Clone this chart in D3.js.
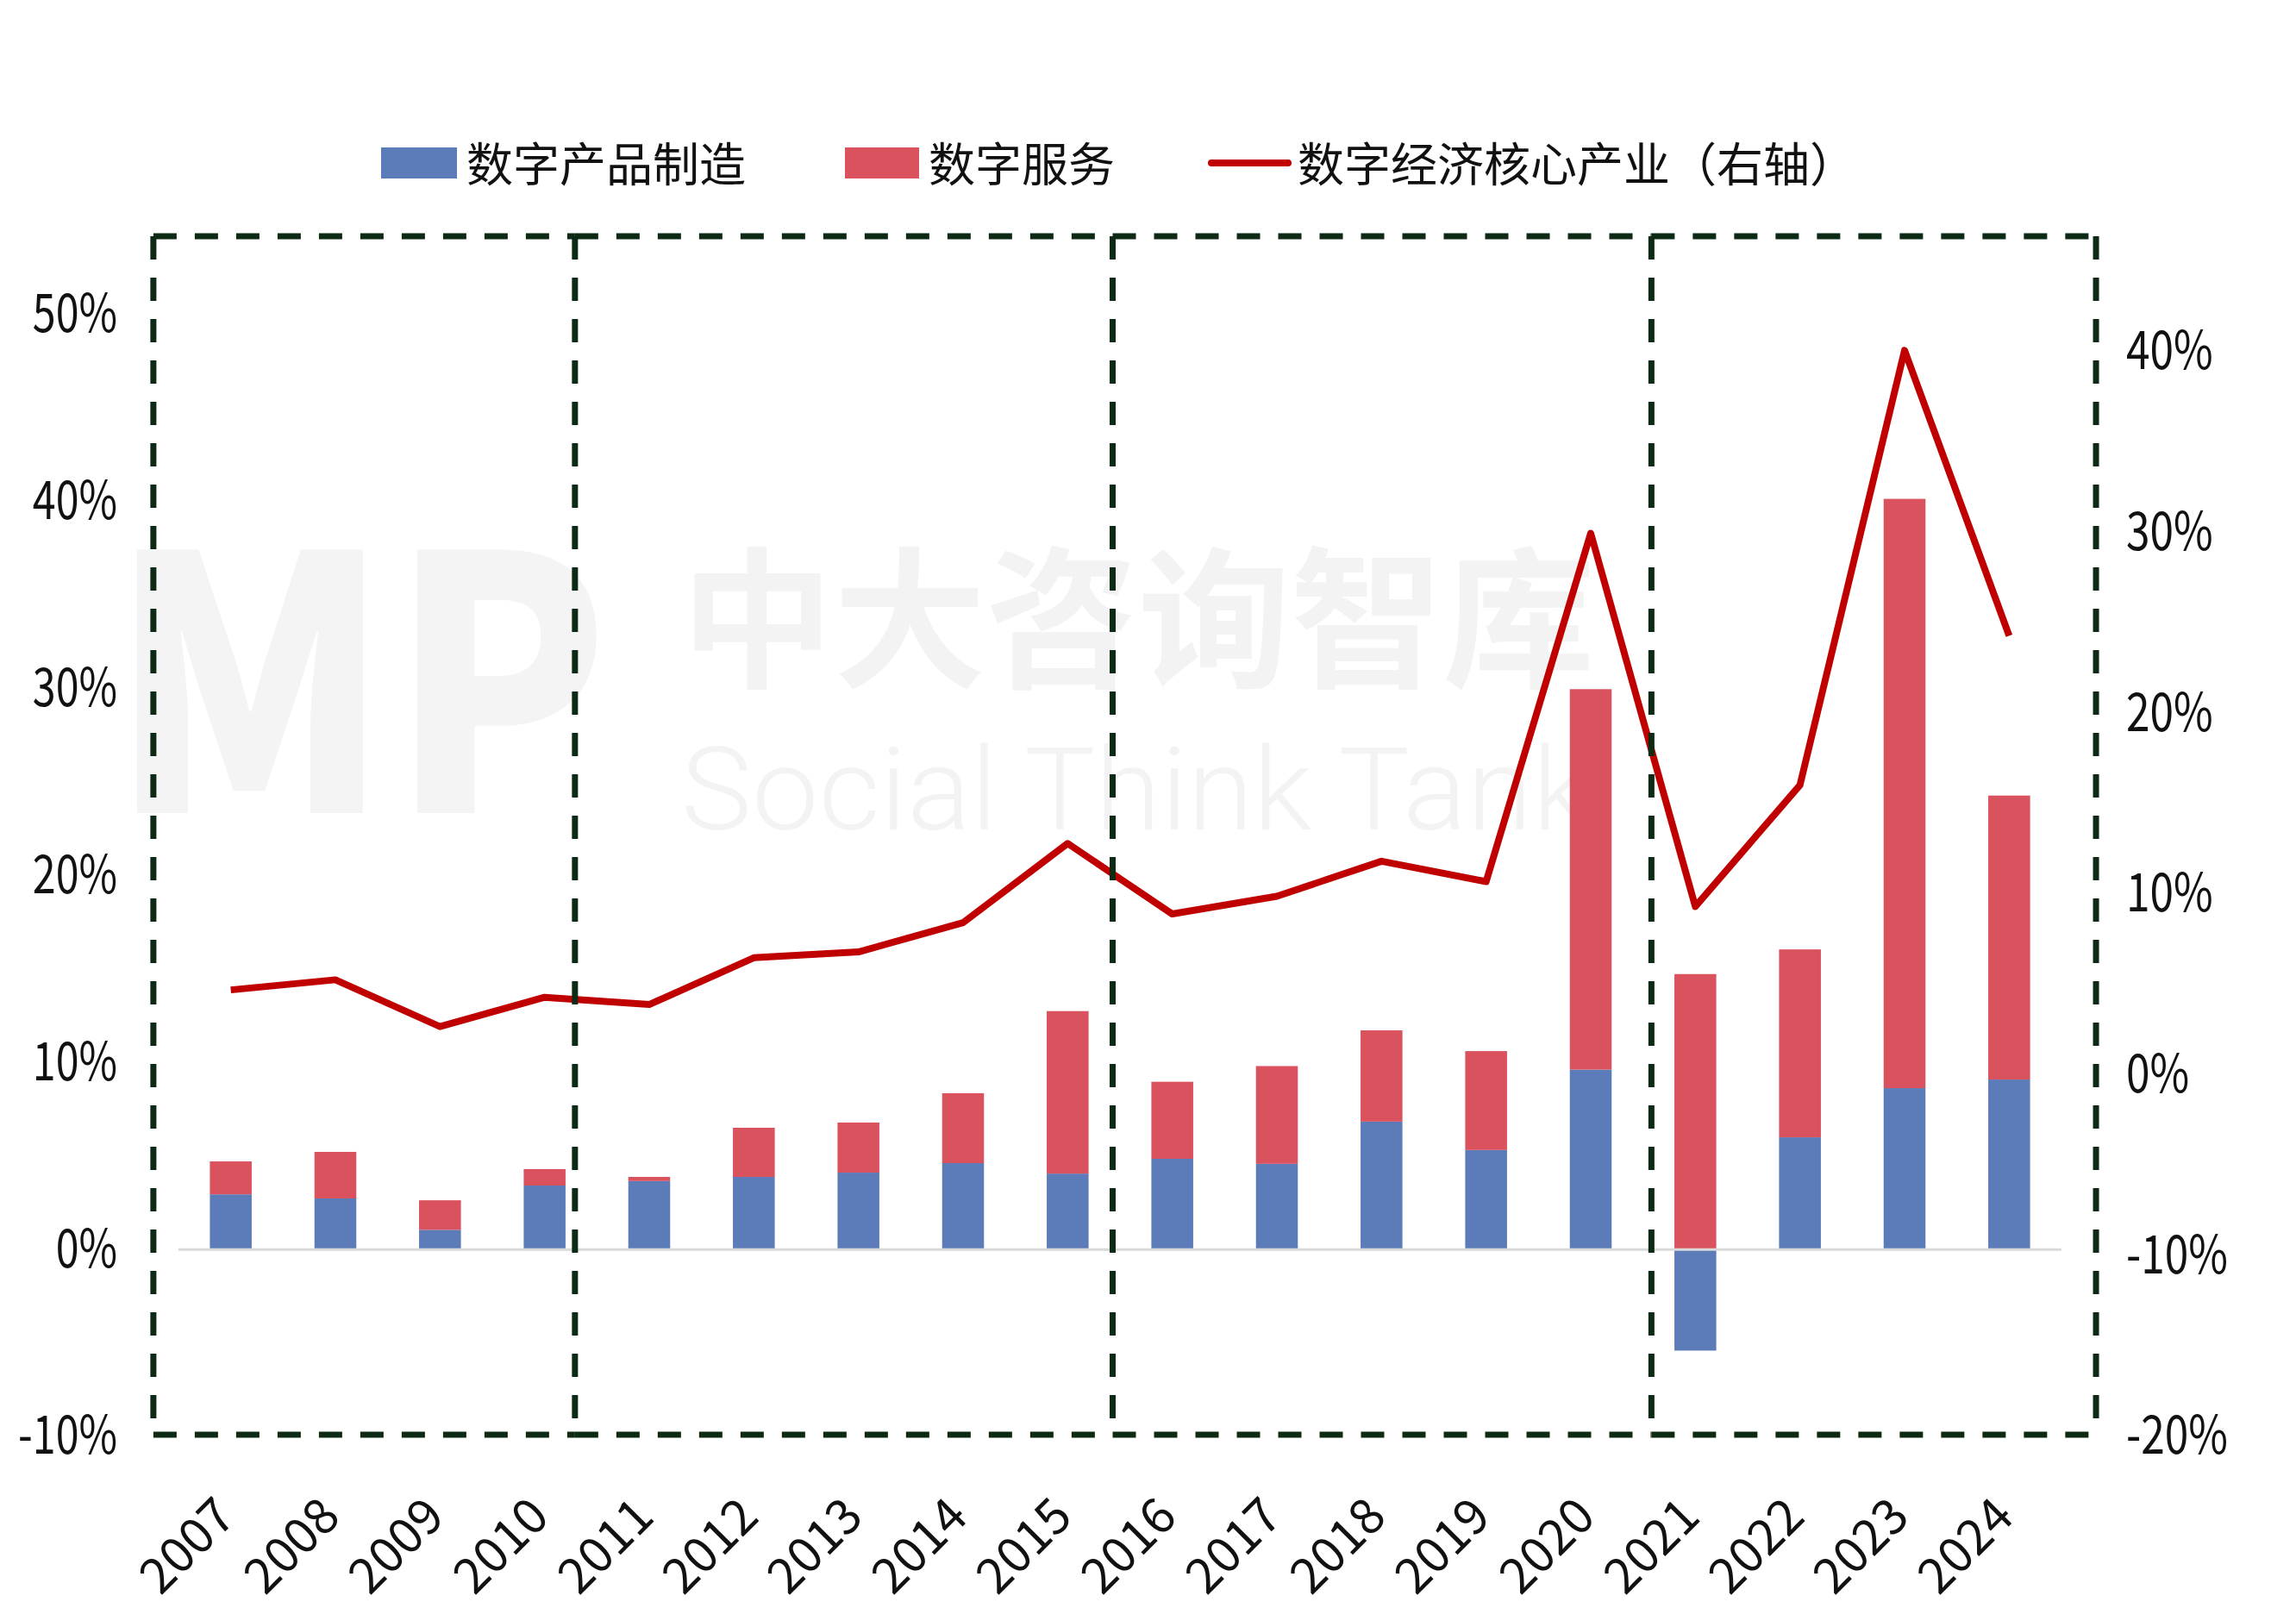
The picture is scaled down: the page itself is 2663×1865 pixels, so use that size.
<!DOCTYPE html>
<html>
<head>
<meta charset="utf-8">
<script src="https://cdn.jsdelivr.net/npm/d3@7"></script>
<style>
  body { margin: 0; background: #fff; }
  text { font-family: "Noto Sans CJK SC", "Noto Sans", sans-serif; fill: #111; }
</style>
</head>
<body>
<div id="chart"></div>
<script>
// data (percent)
const years = ["2007", "2008", "2009", "2010", "2011", "2012", "2013", "2014", "2015",
               "2016", "2017", "2018", "2019", "2020", "2021", "2022", "2023", "2024"];
const manufacturing = [2.95, 2.73, 1.05, 3.42, 3.66, 3.88, 4.11, 4.62, 4.06,
                       4.85, 4.58, 6.84, 5.32, 9.62, -5.41, 6.00, 8.63, 9.09];
const services = [1.76, 2.49, 1.58, 0.88, 0.22, 2.63, 2.68, 3.74, 8.69,
                  4.12, 5.23, 4.88, 5.29, 20.35, 14.73, 10.05, 31.52, 15.19];
const coreIndustry = [4.70, 5.26, 2.67, 4.29, 3.89, 6.48, 6.80, 8.42, 12.80,
                      8.90, 9.88, 11.82, 10.69, 29.96, 9.31, 16.03, 40.08, 24.29];
const leftTicks = [-10, 0, 10, 20, 30, 40, 50];
const rightTicks = [-20, -10, 0, 10, 20, 30, 40];
const seriesNames = ["数字产品制造", "数字服务", "数字经济核心产业（右轴）"];
// period boxes, as positions in category units (0 = first year)
const periodEdges = [-0.74, 3.29, 8.43, 13.58, 17.83];

const W = 2663, H = 1865;
const colors = { manu: "#5b7cb9", serv: "#d9525d", line: "#c00000", box: "#0c2a14" };

const svg = d3.select("#chart")
    .append("svg")
    .attr("width", W)
    .attr("height", H);

svg.append("rect").attr("width", W).attr("height", H).attr("fill", "#fff");

// scales
const x = d3.scaleBand()
    .domain(years)
    .range([207, 2391])
    .paddingInner(0.6)
    .paddingOuter(0.3);

const yL = d3.scaleLinear().domain([-10, 50]).range([1666, 365]);
const yR = d3.scaleLinear().domain([-20, 40]).range([1666, 408]);

const catPos = i => x(years[0]) + x.bandwidth() / 2 + i * x.step();

// faint watermark
const wm = svg.append("g");
wm.append("text").attr("x", 127).attr("y", 943)
    .attr("textLength", 580).attr("lengthAdjust", "spacingAndGlyphs")
    .style("font-size", "410px").style("font-weight", 900).style("fill", "#f4f4f4")
    .text("MP");
wm.append("text").attr("x", 790).attr("y", 784)
    .attr("textLength", 1060).attr("lengthAdjust", "spacingAndGlyphs")
    .style("font-size", "176px").style("font-weight", 700).style("fill", "#f3f3f3")
    .text("中大咨询智库");
wm.append("text").attr("x", 790).attr("y", 962)
    .attr("textLength", 1055).attr("lengthAdjust", "spacingAndGlyphs")
    .style("font-family", "Roboto, sans-serif")
    .style("font-size", "134px").style("font-weight", 300).style("fill", "#f3f3f3")
    .text("Social Think Tank");

// stacked bars
const rows = years.map((yr, i) => ({ year: yr, manu: manufacturing[i], serv: services[i] }));
const stacked = d3.stack()
    .keys(["manu", "serv"])
    .offset(d3.stackOffsetDiverging)(rows);

svg.append("g")
    .selectAll("g")
    .data(stacked)
    .enter().append("g")
    .attr("fill", d => colors[d.key])
    .selectAll("rect")
    .data(d => d)
    .enter().append("rect")
    .attr("x", d => x(d.data.year))
    .attr("y", d => yL(Math.max(d[0], d[1])))
    .attr("width", x.bandwidth())
    .attr("height", d => Math.abs(yL(d[0]) - yL(d[1])));

// zero line
svg.append("line")
    .attr("x1", 207).attr("x2", 2391)
    .attr("y1", yL(0)).attr("y2", yL(0))
    .attr("stroke", "#d9d9d9")
    .attr("stroke-width", 3);

// core industry line on right axis
const line = d3.line()
    .x((d, i) => x(years[i]) + x.bandwidth() / 2)
    .y(d => yR(d));

svg.append("path")
    .datum(coreIndustry)
    .attr("d", line)
    .attr("fill", "none")
    .attr("stroke", colors.line)
    .attr("stroke-width", 8)
    .attr("stroke-linejoin", "round");

// left axis
const axL = svg.append("g")
    .attr("transform", "translate(136,0)")
    .call(d3.axisLeft(yL).tickValues(leftTicks).tickSize(0).tickFormat(d => d + "%"));
axL.select(".domain").remove();
axL.selectAll("text")
    .attr("x", 0)
    .attr("transform", "scale(0.78,1)")
    .style("font-size", "62px")
    .style("font-family", "'Noto Sans CJK SC', sans-serif")
    .attr("fill", "#111");

// right axis
const axR = svg.append("g")
    .attr("transform", "translate(2466,0)")
    .call(d3.axisRight(yR).tickValues(rightTicks).tickSize(0).tickFormat(d => d + "%"));
axR.select(".domain").remove();
axR.selectAll("text")
    .attr("x", 0)
    .attr("transform", "scale(0.8,1)")
    .style("font-size", "62px")
    .style("font-family", "'Noto Sans CJK SC', sans-serif")
    .attr("fill", "#111");

// x axis labels
const axX = svg.append("g")
    .attr("transform", "translate(0,1740)")
    .call(d3.axisBottom(x).tickSize(0));
axX.select(".domain").remove();
axX.selectAll("text")
    .attr("x", 0).attr("y", 0).attr("dy", 0)
    .attr("text-anchor", "end")
    .attr("transform", "translate(8,22) rotate(-45)")
    .style("font-size", "57px")
    .style("font-family", "'Noto Sans CJK SC', sans-serif")
    .attr("fill", "#111");

// dashed period boxes: horizontal edges per box, each vertical edge drawn once
const boxTop = 274, boxBottom = 1664;
const boxG = svg.append("g")
    .attr("stroke", colors.box)
    .attr("stroke-width", 7)
    .attr("stroke-dasharray", "27,21")
    .attr("fill", "none");

const boxes = d3.pairs(periodEdges);
[boxTop, boxBottom].forEach(yy => {
    boxG.selectAll(null)
        .data(boxes)
        .enter().append("line")
        .attr("x1", d => catPos(d[0]))
        .attr("x2", d => catPos(d[1]))
        .attr("y1", yy)
        .attr("y2", yy);
});

boxG.selectAll(null)
    .data(periodEdges)
    .enter().append("line")
    .attr("x1", d => catPos(d))
    .attr("x2", d => catPos(d))
    .attr("y1", boxTop)
    .attr("y2", boxBottom);

// legend
const legend = svg.append("g");
legend.append("rect").attr("x", 442).attr("y", 171).attr("width", 88).attr("height", 36).attr("fill", colors.manu);
legend.append("text").attr("x", 541).attr("y", 211).style("font-size", "54px").text(seriesNames[0]);
legend.append("rect").attr("x", 980).attr("y", 171).attr("width", 86).attr("height", 36).attr("fill", colors.serv);
legend.append("text").attr("x", 1077).attr("y", 211).style("font-size", "54px").text(seriesNames[1]);
legend.append("line").attr("x1", 1405).attr("x2", 1494).attr("y1", 189).attr("y2", 189)
    .attr("stroke", colors.line).attr("stroke-width", 8).attr("stroke-linecap", "round");
legend.append("text").attr("x", 1505).attr("y", 211).style("font-size", "54px").text(seriesNames[2]);
</script>
</body>
</html>
